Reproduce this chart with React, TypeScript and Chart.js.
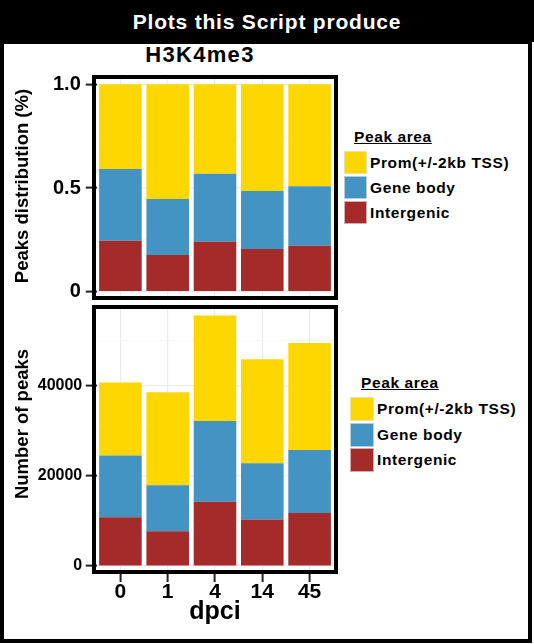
import React, { useEffect, useRef } from "react";
import { Chart, registerables } from "chart.js";

Chart.register(...registerables);

const FONT = '"Liberation Sans", Arial, Helvetica, sans-serif';

// ---- data ----
const categories = ["0", "1", "4", "14", "45"];
const seriesNames = ["Intergenic", "Gene body", "Prom(+/-2kb TSS)"];
const seriesColors = ["#A52A2A", "#4393C3", "#FFD700"];

// fractions (top panel)
const pctIntergenic = [0.246, 0.177, 0.241, 0.206, 0.222];
const pctGeneBody = [0.346, 0.27, 0.328, 0.28, 0.286];
const pctProm = [0.408, 0.553, 0.431, 0.514, 0.492];

// counts (bottom panel)
const cntIntergenic = [10790, 7690, 14240, 10340, 11740];
const cntGeneBody = [13730, 10250, 17940, 12470, 14020];
const cntProm = [16170, 20600, 23410, 23040, 23700];

const pctTicks = [0, 0.25, 0.5, 0.75, 1.0];
const pctTickLabels = ["0", "", "0.5", "", "1.0"];
const cntTicks = [0, 10000, 20000, 30000, 40000, 50000];
const cntTickLabels = ["0", "", "20000", "", "40000", ""];

const legendTitle = "Peak area";

function panelBorderPlugin(extraX: number) {
  return {
    id: "panelBorder",
    afterDraw(chart: any) {
      const { ctx, chartArea: a } = chart;
      ctx.save();
      ctx.strokeStyle = "#000";
      ctx.lineWidth = 4;
      ctx.strokeRect(a.left - extraX, a.top, a.right - a.left + 2 * extraX, a.bottom - a.top);
      ctx.restore();
    },
  };
}

function yTitlePlugin(text: string, x: number, y: number, size: number) {
  return {
    id: "yTitleCustom",
    afterDraw(chart: any) {
      const ctx = chart.ctx;
      ctx.save();
      ctx.translate(x, y);
      ctx.rotate(-Math.PI / 2);
      ctx.font = `bold ${size}px ${FONT}`;
      ctx.fillStyle = "#000";
      ctx.textAlign = "center";
      ctx.textBaseline = "middle";
      ctx.fillText(text, 0, 0);
      ctx.restore();
    },
  };
}

function makeDatasets(a: number[], b: number[], c: number[]) {
  return [a, b, c].map((d, i) => ({
    label: seriesNames[i],
    data: d,
    backgroundColor: seriesColors[i],
    borderWidth: 0,
    barPercentage: 0.9,
    categoryPercentage: 1,
  }));
}

const AXIS_W = 96.75;

function noPad(s: any) {
  s.paddingTop = 0;
  s.paddingBottom = 0;
  s.paddingLeft = 0;
  s.paddingRight = 0;
}

function TopChart() {
  const ref = useRef<HTMLCanvasElement>(null);
  useEffect(() => {
    if (!ref.current) return;
    const chart = new Chart(ref.current, {
      type: "bar",
      data: { labels: categories, datasets: makeDatasets(pctIntergenic, pctGeneBody, pctProm) as any },
      options: {
        responsive: false,
        animation: false,
        devicePixelRatio: 1,
        layout: { padding: { top: 35, right: 6.75, bottom: 0, left: 0 } },
        plugins: { legend: { display: false }, tooltip: { enabled: false }, title: { display: false } },
        scales: {
          x: {
            stacked: true,
            offset: true,
            grid: { offset: false, color: "#EBEBEB", lineWidth: 1.2, drawTicks: false },
            border: { display: false },
            ticks: { display: false },
            afterFit: (s: any) => { s.height = 2; noPad(s); },
          },
          y: {
            stacked: true,
            min: -0.0304,
            max: 1.0352,
            afterBuildTicks: (s: any) => { s.ticks = pctTicks.map((v) => ({ value: v })); },
            afterFit: (s: any) => { s.width = AXIS_W; noPad(s); },
            grid: {
              color: (c: any) => (pctTickLabels[pctTicks.indexOf(c.tick?.value)] ? "#EBEBEB" : "#F5F5F5"),
              lineWidth: (c: any) => (pctTickLabels[pctTicks.indexOf(c.tick?.value)] ? 1.2 : 0.8),
              tickColor: (c: any) => (pctTickLabels[pctTicks.indexOf(c.tick?.value)] ? "#222" : "rgba(0,0,0,0)"),
              tickLength: 11,
              tickWidth: 2,
            },
            border: { display: false },
            ticks: {
              padding: 5,
              color: "#000",
              font: { family: FONT, size: 20, weight: "bold" },
              callback: (v: any) => pctTickLabels[pctTicks.indexOf(Number(v))] ?? "",
            },
          },
        },
      },
      plugins: [panelBorderPlugin(2.75), yTitlePlugin("Peaks distribution (%)", 23, 144, 18.5)],
    });
    return () => chart.destroy();
  }, []);
  return (
    <canvas
      ref={ref}
      width={340}
      height={258}
      style={{ position: "absolute", left: 0, top: 42, width: 340, height: 258, display: "block" }}
    />
  );
}

function BottomChart() {
  const ref = useRef<HTMLCanvasElement>(null);
  useEffect(() => {
    if (!ref.current) return;
    const chart = new Chart(ref.current, {
      type: "bar",
      data: { labels: categories, datasets: makeDatasets(cntIntergenic, cntGeneBody, cntProm) as any },
      options: {
        responsive: false,
        animation: false,
        devicePixelRatio: 1,
        layout: { padding: { top: 7, right: 6.75, bottom: 0, left: 0 } },
        plugins: { legend: { display: false }, tooltip: { enabled: false }, title: { display: false } },
        scales: {
          x: {
            stacked: true,
            offset: true,
            afterFit: (s: any) => { s.height = 68; noPad(s); },
            grid: { offset: false, color: "#EBEBEB", lineWidth: 1.2, tickColor: "#222", tickLength: 10, tickWidth: 2 },
            border: { display: false },
            ticks: {
              padding: 0,
              color: "#000",
              font: { family: FONT, size: 21, weight: "bold", lineHeight: 1 },
            },
            title: {
              display: true,
              text: "dpci",
              color: "#000",
              font: { family: FONT, size: 25, weight: "bold", lineHeight: 1 },
              padding: { top: 0, bottom: 15 },
            },
          },
          y: {
            stacked: true,
            min: -1331,
            max: 57460,
            afterBuildTicks: (s: any) => { s.ticks = cntTicks.map((v) => ({ value: v })); },
            afterFit: (s: any) => { s.width = AXIS_W; noPad(s); },
            grid: {
              color: (c: any) => (cntTickLabels[cntTicks.indexOf(c.tick?.value)] ? "#EBEBEB" : "#F5F5F5"),
              lineWidth: (c: any) => (cntTickLabels[cntTicks.indexOf(c.tick?.value)] ? 1.2 : 0.8),
              tickColor: (c: any) => (cntTickLabels[cntTicks.indexOf(c.tick?.value)] ? "#222" : "rgba(0,0,0,0)"),
              tickLength: 11,
              tickWidth: 2,
            },
            border: { display: false },
            ticks: {
              padding: 3.5,
              color: "#000",
              font: { family: FONT, size: 16, weight: "bold" },
              callback: (v: any) => cntTickLabels[cntTicks.indexOf(Number(v))] ?? "",
            },
          },
        },
      },
      plugins: [panelBorderPlugin(2.75), yTitlePlugin("Number of peaks", 22.7, 124, 18.5)],
    });
    return () => chart.destroy();
  }, []);
  return (
    <canvas
      ref={ref}
      width={340}
      height={340}
      style={{ position: "absolute", left: 0, top: 300, width: 340, height: 340, display: "block" }}
    />
  );
}

function Legend({ left, top, swatchLeft, size, pitch, textGap }: any) {
  const order = [2, 1, 0];
  return (
    <>
      <div
        style={{
          position: "absolute",
          left,
          top,
          fontFamily: FONT,
          fontWeight: "bold",
          fontSize: 15.5,
          letterSpacing: 0.6,
          lineHeight: 1,
          textDecoration: "underline",
          color: "#000",
          whiteSpace: "nowrap",
        }}
      >
        {legendTitle}
      </div>
      {order.map((idx, i) => (
        <div
          key={idx}
          style={{
            position: "absolute",
            left: swatchLeft,
            top: top + 22 + i * pitch,
            height: size,
            display: "flex",
            alignItems: "center",
            whiteSpace: "nowrap",
          }}
        >
          <div
            style={{
              width: size,
              height: size,
              background: seriesColors[idx],
              boxSizing: "border-box",
              border: "1px solid rgba(230,230,230,0.7)",
            }}
          />
          <span
            style={{
              marginLeft: textGap,
              fontFamily: FONT,
              fontWeight: "bold",
              fontSize: 15.5,
              letterSpacing: 0.6,
              color: "#000",
            }}
          >
            {seriesNames[idx]}
          </span>
        </div>
      ))}
    </>
  );
}

export default function App() {
  return (
    <div style={{ position: "absolute", left: 0, top: 0, width: 534, height: 644, background: "#fff", overflow: "hidden" }}>
      <div
        style={{
          position: "absolute",
          left: 0,
          top: 40,
          width: 532,
          height: 603,
          boxSizing: "border-box",
          border: "4px solid #000",
        }}
      />
      <div
        style={{
          position: "absolute",
          left: 0,
          top: 0,
          width: 534,
          height: 42,
          background: "#000",
          color: "#fff",
          fontFamily: FONT,
          fontWeight: "bold",
          fontSize: 21,
          letterSpacing: 0.8,
          lineHeight: "42px",
          textAlign: "center",
          paddingTop: 1,
          boxSizing: "border-box",
        }}
      >
        Plots this Script produce
      </div>
      <div
        style={{
          position: "absolute",
          left: 100,
          top: 44,
          width: 200,
          textAlign: "center",
          fontFamily: FONT,
          fontWeight: "bold",
          fontSize: 22,
          letterSpacing: 1.3,
          lineHeight: 1,
          color: "#000",
        }}
      >
        H3K4me3
      </div>
      <TopChart />
      <BottomChart />
      <Legend left={354} top={129} swatchLeft={344} size={23} pitch={25} textGap={3} />
      <Legend left={361} top={375} swatchLeft={350} size={24} pitch={25.5} textGap={3} />
    </div>
  );
}
